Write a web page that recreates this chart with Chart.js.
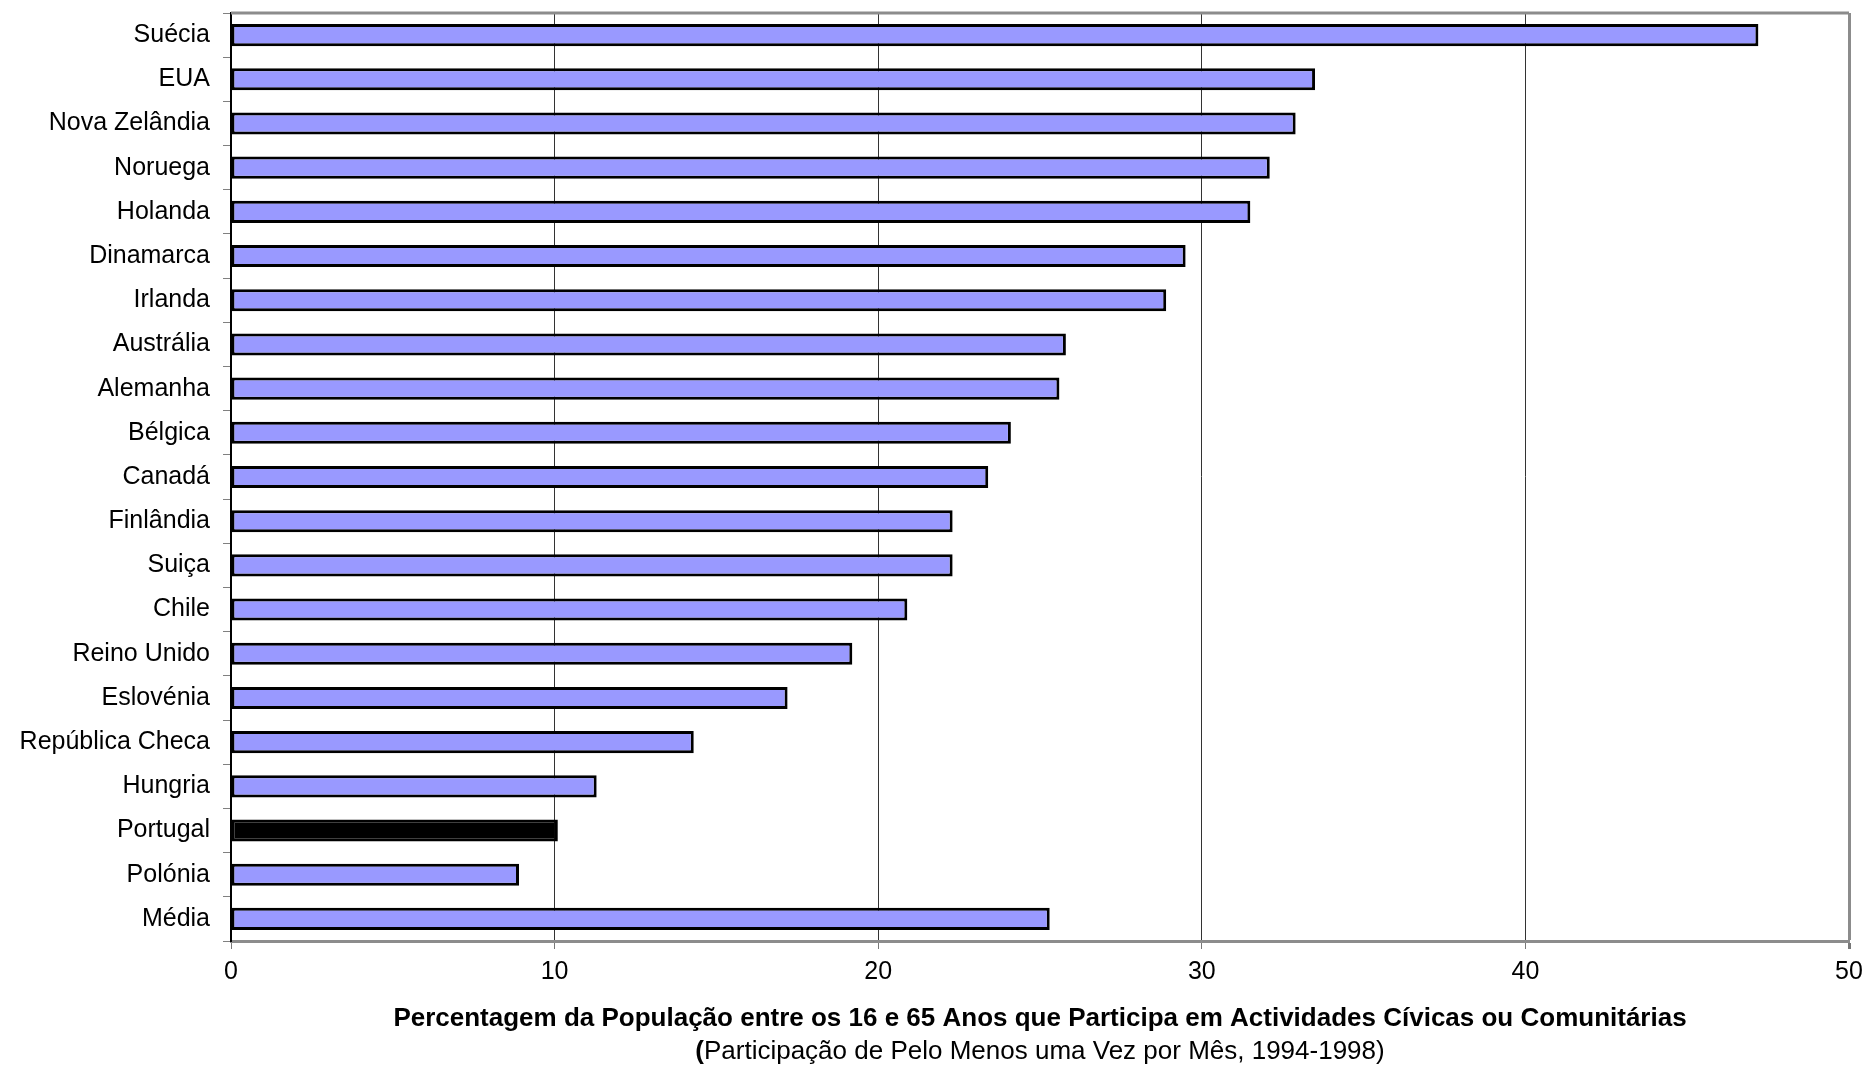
<!DOCTYPE html>
<html>
<head>
<meta charset="utf-8">
<script src="https://cdn.jsdelivr.net/npm/chart.js@4/dist/chart.umd.min.js"></script>
<style>
  html, body { margin: 0; padding: 0; background: #fff; }
  #wrap { width: 1865px; height: 1066px; }
</style>
</head>
<body>
<div id="wrap"><canvas id="grafico" width="1865" height="1066"></canvas></div>
<script>
// dados
var paises = ['Suécia', 'EUA', 'Nova Zelândia', 'Noruega', 'Holanda', 'Dinamarca', 'Irlanda',
    'Austrália', 'Alemanha', 'Bélgica', 'Canadá', 'Finlândia', 'Suiça', 'Chile', 'Reino Unido',
    'Eslovénia', 'República Checa', 'Hungria', 'Portugal', 'Polónia', 'Média'];
var valores = [47.2, 33.5, 32.9, 32.1, 31.5, 29.5, 28.9, 25.8, 25.6, 24.1, 23.4, 22.3, 22.3,
    20.9, 19.2, 17.2, 14.3, 11.3, 10.1, 8.9, 25.3];
var ticksX = [0, 10, 20, 30, 40, 50];
var destaque = 'Portugal';

var tituloX = 'Percentagem da População entre os 16 e 65 Anos que Participa em Actividades Cívicas ou Comunitárias';
var subtitulo = 'Participação de Pelo Menos uma Vez por Mês, 1994-1998)';

var fonte = '"Liberation Sans", Arial, sans-serif';

// cores das barras (Portugal a preto)
var cores = paises.map(function(p) { return p === destaque ? '#000000' : '#9999ff'; });

// moldura cinzenta da área do gráfico + subtítulo
var molduraPlugin = {
    id: 'moldura',
    afterDraw: function(chart) {
        var ctx = chart.ctx;
        var a = chart.chartArea;
        ctx.save();
        ctx.strokeStyle = '#8c8c8c';
        ctx.lineWidth = 3;
        ctx.beginPath();
        ctx.moveTo(a.left, a.top);
        ctx.lineTo(a.right, a.top);
        ctx.stroke();

        // subtítulo: "(" a negrito, resto normal
        var cx = (a.left + a.right) / 2;
        var y = chart.scales.x.bottom - 14;
        ctx.fillStyle = '#000';
        ctx.textBaseline = 'middle';
        ctx.font = 'bold 26px ' + fonte;
        var w1 = ctx.measureText('(').width;
        ctx.font = '26px ' + fonte;
        var w2 = ctx.measureText(subtitulo).width;
        var x0 = cx - (w1 + w2) / 2;
        ctx.textAlign = 'left';
        ctx.font = 'bold 26px ' + fonte;
        ctx.fillText('(', x0, y);
        ctx.font = '26px ' + fonte;
        ctx.fillText(subtitulo, x0 + w1, y);
        ctx.restore();
    }
};

var ctx = document.getElementById('grafico').getContext('2d');
new Chart(ctx, {
    type: 'bar',
    data: {
        labels: paises,
        datasets: [{
            data: valores,
            backgroundColor: cores,
            borderColor: '#000000',
            borderWidth: 3,
            borderSkipped: false,
            barPercentage: 0.5,
            categoryPercentage: 1
        }]
    },
    options: {
        indexAxis: 'y',
        responsive: false,
        animation: false,
        layout: { padding: { top: 13, right: 16, left: 0, bottom: 0 } },
        plugins: {
            legend: { display: false },
            tooltip: { enabled: false }
        },
        scales: {
            x: {
                min: 0,
                max: 50,
                afterBuildTicks: function(scale) {
                    scale.ticks = ticksX.map(function(v) { return { value: v }; });
                },
                afterFit: function(scale) {
                    scale.height = 125;
                    scale.paddingLeft = 0;
                    scale.paddingRight = 0;
                },
                border: { color: '#8c8c8c', width: 3 },
                grid: {
                    color: function(c) {
                        if (c.tick.value === 0) return 'rgba(0,0,0,0)';
                        return c.tick.value === 50 ? '#8c8c8c' : '#333333';
                    },
                    lineWidth: function(c) { return c.tick.value === 50 ? 3 : 1; },
                    tickColor: '#777',
                    tickLength: 8
                },
                ticks: {
                    color: '#000',
                    font: { family: fonte, size: 25 },
                    padding: 8
                },
                title: {
                    display: true,
                    text: tituloX,
                    color: '#000',
                    font: { family: fonte, size: 26, weight: 'bold' },
                    padding: { top: 0, bottom: 32 }
                }
            },
            y: {
                afterFit: function(scale) {
                    scale.width = 231;
                    scale.paddingTop = 0;
                    scale.paddingBottom = 0;
                },
                border: { color: '#000', width: 2 },
                grid: {
                    drawOnChartArea: false,
                    tickColor: '#808080',
                    tickLength: 8
                },
                ticks: {
                    color: '#000',
                    font: { family: fonte, size: 25 },
                    padding: 13
                }
            }
        }
    },
    plugins: [molduraPlugin]
});
</script>
</body>
</html>
